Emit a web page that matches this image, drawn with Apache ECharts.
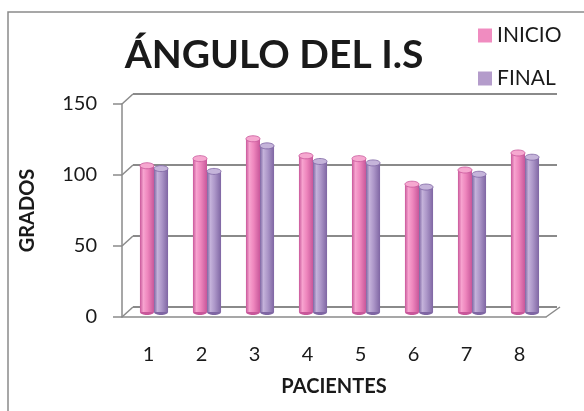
<!DOCTYPE html>
<html>
<head>
<meta charset="utf-8">
<script src="https://cdn.jsdelivr.net/npm/echarts@6/dist/echarts.min.js"></script>
<style>
  html, body { margin: 0; padding: 0; background: #ffffff; }
  #chart { width: 584px; height: 411px; }
</style>
</head>
<body>
<div id="chart"></div>
<script>
// Patients and measured angle before / after treatment
const pacientes = ['1', '2', '3', '4', '5', '6', '7', '8'];
const inicio = [103, 108, 122, 110, 108, 90, 100, 112];
const final = [101, 99, 117, 106, 105, 88, 97, 109];
const yTicks = [0, 50, 100, 150];

const FONT = 'Lato';
const GRID_COLOR = '#8a8a8a';
// depth offset of the back wall relative to the front plane
const DX = 11, DY = -10;

const chart = echarts.init(document.getElementById('chart'), null, { renderer: 'canvas' });

// cylinder painter: body with side shading, lighter elliptical cap
function cylinder(side, colors) {
  return function (params, api) {
    const i = api.value(0);
    const v = api.value(1);
    const top = api.coord([i, v]);
    const base = api.coord([i, 0]);
    const band = api.size([1, 0])[0];
    const w = band * 0.265;
    const x0 = side < 0 ? top[0] - w : top[0];
    const ry = 3;
    const grad = new echarts.graphic.LinearGradient(0, 0, 1, 0, [
      { offset: 0, color: colors.edge },
      { offset: 0.25, color: colors.light },
      { offset: 0.55, color: colors.mid },
      { offset: 1, color: colors.edge }
    ]);
    return {
      type: 'group',
      children: [
        {
          type: 'ellipse',
          shape: { cx: x0 + w / 2, cy: base[1], rx: w / 2, ry: ry },
          style: { fill: colors.edge }
        },
        {
          type: 'rect',
          shape: { x: x0, y: top[1], width: w, height: base[1] - top[1] },
          style: { fill: grad }
        },
        {
          type: 'ellipse',
          shape: { cx: x0 + w / 2, cy: top[1], rx: w / 2, ry: ry },
          style: { fill: colors.cap, stroke: colors.edge, lineWidth: 0.8 }
        }
      ]
    };
  };
}

const pinkCols = { edge: '#c8579a', light: '#f7a3cf', mid: '#ee86bd', cap: '#f6a8d0' };
const purpleCols = { edge: '#7f66a3', light: '#c4b2da', mid: '#ac96c8', cap: '#c5b4da' };

chart.setOption({
  animation: false,
  backgroundColor: '#ffffff',
  title: {
    text: 'ÁNGULO DEL I.S',
    left: 269,
    top: 31,
    textAlign: 'center',
    textStyle: { fontFamily: FONT, fontWeight: 'bold', fontSize: 39, color: '#1a1a1a' }
  },
  legend: {
    orient: 'vertical',
    left: 473,
    top: 20,
    itemGap: 22,
    itemWidth: 14,
    itemHeight: 14,
    icon: 'rect',
    textStyle: { fontFamily: FONT, fontSize: 21, color: '#1a1a1a' },
    data: ['INICIO', 'FINAL']
  },
  graphic: [
    {
      type: 'rect',
      shape: { x: 8, y: 12, width: 620, height: 440 },
      style: { fill: 'none', stroke: GRID_COLOR, lineWidth: 1.5 },
      silent: true
    }
  ],
  grid: [
    // front plane: axes, ticks and labels
    { left: 122, top: 104, width: 424, height: 213 },
    // back wall: gridlines
    { left: 122 + DX, top: 104 + DY, width: 424, height: 213 },
    // middle depth: bars
    { left: 122 + DX / 2, top: 104 + DY / 2, width: 424, height: 213 }
  ],
  xAxis: [
    {
      gridIndex: 0, type: 'category', data: pacientes,
      axisLine: { lineStyle: { color: GRID_COLOR, width: 1.5 } },
      axisTick: { length: 6, lineStyle: { color: GRID_COLOR, width: 1.5 } },
      axisLabel: { fontFamily: FONT, fontSize: 20, color: '#1a1a1a', margin: 28 },
      name: 'PACIENTES', nameLocation: 'middle', nameGap: 60,
      nameTextStyle: { fontFamily: FONT, fontWeight: 'bold', fontSize: 20, color: '#1a1a1a' }
    },
    { gridIndex: 1, type: 'category', data: pacientes, show: false },
    { gridIndex: 2, type: 'category', data: pacientes, show: false }
  ],
  yAxis: [
    {
      gridIndex: 0, type: 'value', min: 0, max: 150, interval: 50,
      axisLine: { show: true, lineStyle: { color: GRID_COLOR, width: 1.5 } },
      axisTick: { show: true, length: 9, lineStyle: { color: GRID_COLOR, width: 1.5 } },
      axisLabel: { fontFamily: FONT, fontSize: 20, color: '#1a1a1a', margin: 25 },
      splitLine: { show: false },
      name: 'GRADOS', nameLocation: 'middle', nameGap: 84, nameRotate: 90,
      nameTextStyle: { fontFamily: FONT, fontWeight: 'bold', fontSize: 20, color: '#1a1a1a' }
    },
    {
      gridIndex: 1, type: 'value', min: 0, max: 150, interval: 50,
      axisLine: { show: false }, axisTick: { show: false }, axisLabel: { show: false },
      splitLine: { show: true, lineStyle: { color: GRID_COLOR, width: 2 } }
    },
    {
      gridIndex: 2, type: 'value', min: 0, max: 150, interval: 50, show: false,
      splitLine: { show: false }
    }
  ],
  series: [
    {
      // diagonal connectors from front ticks to the back wall
      type: 'custom', xAxisIndex: 0, yAxisIndex: 0, silent: true, z: 1,
      data: yTicks.map(v => [0, v]),
      renderItem: function (params, api) {
        const p = api.coord([0, api.value(1)]);
        const x = p[0] - api.size([1, 0])[0] / 2;
        return {
          type: 'line',
          shape: { x1: x, y1: p[1], x2: x + DX, y2: p[1] + DY },
          style: { stroke: GRID_COLOR, lineWidth: 1.5 }
        };
      }
    },
    {
      // right edge of the floor
      type: 'custom', xAxisIndex: 0, yAxisIndex: 0, silent: true, z: 1,
      data: [[pacientes.length - 1, 0]],
      renderItem: function (params, api) {
        const p = api.coord([api.value(0), 0]);
        const x = p[0] + api.size([1, 0])[0] / 2;
        return {
          type: 'line',
          shape: { x1: x, y1: p[1], x2: x + DX + 3, y2: p[1] + DY },
          style: { stroke: GRID_COLOR, lineWidth: 1.5 }
        };
      }
    },
    {
      name: 'INICIO', type: 'custom', xAxisIndex: 2, yAxisIndex: 2, z: 3,
      itemStyle: { color: '#f08cc0' },
      data: inicio.map((v, i) => [i, v]),
      renderItem: cylinder(-1, pinkCols)
    },
    {
      name: 'FINAL', type: 'custom', xAxisIndex: 2, yAxisIndex: 2, z: 3,
      itemStyle: { color: '#b49ccb' },
      data: final.map((v, i) => [i, v]),
      renderItem: cylinder(1, purpleCols)
    }
  ]
});
</script>
</body>
</html>
